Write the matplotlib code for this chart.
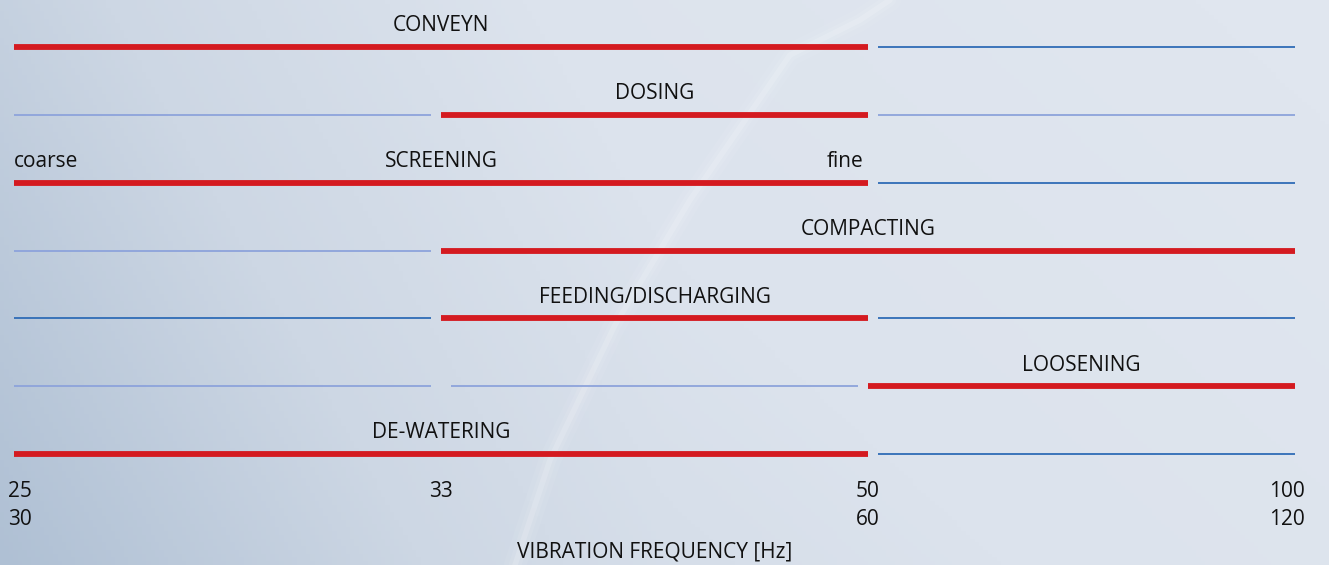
import numpy as np
import matplotlib.pyplot as plt
from matplotlib.colors import LinearSegmentedColormap

# application bands over the frequency ranges
applications = ['CONVEYN', 'DOSING', 'SCREENING', 'COMPACTING',
                'FEEDING/DISCHARGING', 'LOOSENING', 'DE-WATERING']
# state of each range: 'r' = suitable (red), 'd' = dark blue, 'l' = light blue
bands = [
    ['r', 'r', 'd'],
    ['l', 'r', 'l'],
    ['r', 'r', 'd'],
    ['l', 'r', 'r'],
    ['d', 'r', 'd'],
    ['l', 'l', 'r'],
    ['r', 'r', 'd'],
]
freq_top = ['25', '33', '50', '100']
freq_bottom = ['30', '', '60', '120']

RED = '#d41a20'
BLUES = {'d': '#2f6cb6', 'l': '#8da3db'}
TXT = '#111111'
FS = 15

W, H = 1329, 565
fig = plt.figure(figsize=(W / 100, H / 100), dpi=100)
plt.rcParams['font.family'] = ['Open Sans', 'DejaVu Sans']

# background gradient
bg = fig.add_axes([0, 0, 1, 1], zorder=0)
bg.set_axis_off()
xx, yy = np.meshgrid(np.linspace(0, 1, 300), np.linspace(0, 1, 150))
shade = np.clip(0.55 * xx + 0.25 * (1 - yy) + 0.25 * np.clip(xx * 2, 0, 1), 0, 1)
cmap = LinearSegmentedColormap.from_list('bg', ['#afc0d4', '#cdd7e4', '#dce3ed', '#e0e6ef'])
bg.imshow(shade, cmap=cmap, aspect='auto', extent=[0, W, H, 0], vmin=0, vmax=1)
# soft light streak
sx = [890, 860, 790, 690, 615, 550, 515]
sy = [0, 20, 55, 200, 325, 460, 565]
for lw, a in [(16, 0.06), (9, 0.08), (4, 0.15)]:
    bg.plot(sx, sy, color='white', lw=lw, alpha=a, solid_capstyle='round')
bg.set_xlim(0, W)
bg.set_ylim(H, 0)

# main axes: x 0..3 is range boundaries, y rows 0..6
ax = fig.add_axes([14 / W, 1 - 454 / H, (1295 - 14) / W, (454 - 47) / H], zorder=1)
ax.patch.set_alpha(0)
ax.set_xlim(0, 3)
ax.set_ylim(6, 0)
ax.set_axis_off()

gap = 0.023
for row, (name, segs) in enumerate(zip(applications, bands)):
    reds = [i for i, s in enumerate(segs) if s == 'r']
    r0, r1 = min(reds), max(reds) + 1
    ax.plot([r0, r1], [row, row], color=RED, lw=4.2, solid_capstyle='butt', clip_on=False)
    for i, s in enumerate(segs):
        if s == 'r':
            continue
        x0 = i + (gap if i > 0 else 0)
        x1 = i + 1 - (gap if i < 2 else 0)
        ax.plot([x0, x1], [row, row], color=BLUES[s], lw=1.3,
                solid_capstyle='butt', clip_on=False)
    ax.text((r0 + r1) / 2, row - 0.23, name, ha='center', va='baseline',
            fontsize=FS, color=TXT, clip_on=False)

ax.text(0, 2 - 0.23, 'coarse', ha='left', va='baseline', fontsize=FS, color=TXT)
ax.text(1.99, 2 - 0.23, 'fine', ha='right', va='baseline', fontsize=FS, color=TXT)

for i, (t, b) in enumerate(zip(freq_top, freq_bottom)):
    ha = 'left' if i == 0 else ('right' if i == 3 else 'center')
    x = -0.015 if i == 0 else (3.023 if i == 3 else i)
    ax.text(x, 6.634, t, ha=ha, va='baseline', fontsize=FS, color=TXT, clip_on=False)
    ax.text(x, 7.047, b, ha=ha, va='baseline', fontsize=FS, color=TXT, clip_on=False)

ax.text(1.5, 7.53, 'VIBRATION FREQUENCY [Hz]', ha='center', va='baseline',
        fontsize=FS, color=TXT, clip_on=False)

fig.savefig('out.png', dpi=100)
